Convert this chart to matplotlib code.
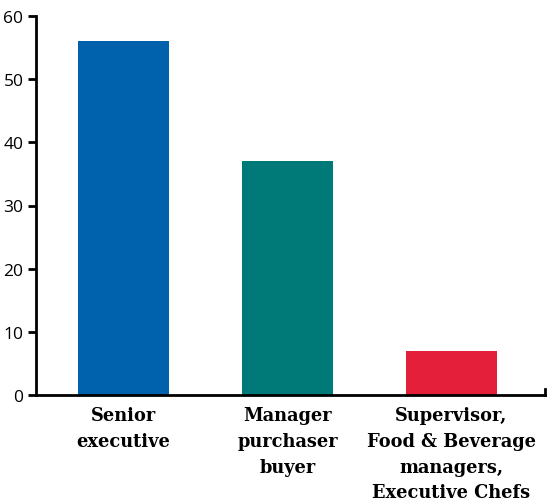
import matplotlib
matplotlib.use("Agg")
import matplotlib.pyplot as plt
import numpy as np

categories = ["Senior\nexecutive",
              "Manager\npurchaser\nbuyer",
              "Supervisor,\nFood & Beverage\nmanagers,\nExecutive Chefs"]
values = [56, 37, 7]
colors = ["#0061ad", "#007a78", "#e31f3a"]
yticks = [0, 10, 20, 30, 40, 50, 60]

fig = plt.figure(figsize=(5.48, 5.02), dpi=100)
ax = fig.add_axes([36 / 548, 106 / 502, 509 / 548, 379 / 502])

x = np.arange(len(categories))
ax.bar(x, values, width=0.555, color=colors)

ax.set_xlim(-0.534, 2.57)
ax.set_ylim(0, 60)
ax.set_yticks(yticks)
ax.set_yticklabels([str(t) for t in yticks], fontsize=12.5, family="Open Sans")
ax.set_xticks(x)
ax.set_xticklabels(categories, fontsize=12.8, family="DejaVu Serif",
                   fontweight="bold", linespacing=1.55)

ax.tick_params(axis="y", direction="out", length=6, width=2, pad=3)
ax.tick_params(axis="x", length=0, pad=8)

ax.spines["top"].set_visible(False)
ax.spines["left"].set_linewidth(2)
ax.spines["bottom"].set_linewidth(2)
# short upturned end on the right of the baseline
ax.spines["right"].set_bounds(0, 1)
ax.spines["right"].set_linewidth(2)

fig.savefig("out.png", dpi=100)
